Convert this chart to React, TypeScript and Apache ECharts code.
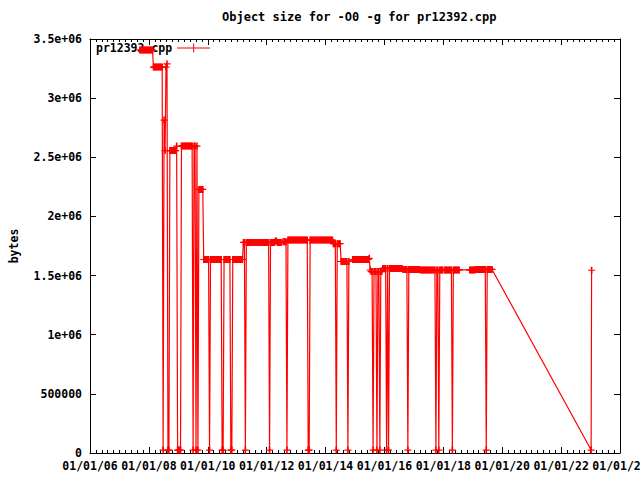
import React, { useEffect, useRef } from "react";
import * as echarts from "echarts";

const chartTitle = "Object size for -O0 -g for pr12392.cpp";
const seriesName = "pr12392.cpp";
const yAxisName = "bytes";

// dense run of builds: first date and spacing
const firstBuildDate = "2007-09-12";
const buildStepDays = 12;
// object size (bytes) for each build; 25e3 = failed build, null = no build recorded
const buildSizes: (number | null)[] = [
  3407e3, 3407e3, 3407e3, 3407e3, 3407e3, 3407e3, 3407e3, 3407e3, 3407e3, 3407e3, 3407e3, 3407e3, 3407e3, 3407e3,
  3263e3, 3263e3, 3263e3, 3263e3, 3263e3, 3263e3, 3263e3, 3263e3, 3263e3, 3263e3,
  25e3, 2815e3, 2557e3, 3263e3, 3289e3, 25e3, 25e3,
  2557e3, 2557e3, 2557e3, 2557e3, 2557e3, 2557e3, 2557e3,
  2595e3, 25e3, 25e3, 25e3, 25e3,
  2595e3, 2595e3, 2595e3, 2595e3, 2595e3, 2595e3, 2595e3, 2595e3, 2595e3, 2595e3, 2595e3, 2595e3,
  25e3, 2595e3, 2595e3, 25e3, 2595e3, 25e3,
  2228e3, 2228e3, 2228e3, 2228e3, 2228e3,
  1636e3, 1636e3, 1636e3, 1636e3, 1636e3, 1636e3,
  25e3,
  1636e3, 1636e3, 1636e3, 1636e3, 1636e3, 1636e3, 1636e3, 1636e3, 1636e3, 1636e3, 1636e3, 1636e3,
  25e3, 25e3,
  1636e3, 1636e3, 1636e3, 1636e3, 1636e3, 1636e3, 1636e3,
  25e3, 25e3,
  1636e3, 1636e3, 1636e3, 1636e3, 1636e3, 1636e3, 1636e3, 1636e3, 1636e3, 1636e3, 1636e3,
  1780e3, 1780e3,
  25e3,
  1780e3, 1780e3, 1780e3, 1780e3, 1780e3, 1780e3, 1780e3, 1780e3, 1780e3, 1780e3, 1780e3, 1780e3,
  1780e3, 1780e3, 1780e3, 1780e3, 1780e3, 1780e3, 1780e3, 1780e3, 1780e3, 1780e3, 1780e3, 1780e3,
  25e3,
  1780e3, 1780e3, 1780e3, 1780e3, 1780e3,
  1792e3, 1792e3,
  1780e3, 1780e3, 1780e3, 1780e3, 1780e3,
  null,
  1785e3, 1785e3, 1785e3, 1785e3,
  25e3,
  1800e3, 1800e3, 1800e3, 1800e3, 1800e3, 1800e3, 1800e3, 1800e3, 1800e3, 1800e3, 1800e3,
  1800e3, 1800e3, 1800e3, 1800e3, 1800e3, 1800e3, 1800e3, 1800e3, 1800e3, 1800e3,
  25e3, 25e3,
  1800e3, 1800e3, 1800e3, 1800e3, 1800e3, 1800e3, 1800e3, 1800e3, 1800e3, 1800e3, 1800e3, 1800e3,
  1800e3, 1800e3, 1800e3, 1800e3, 1800e3, 1800e3, 1800e3, 1800e3, 1800e3, 1800e3, 1800e3, 1800e3,
  1770e3, 1770e3, 1770e3,
  25e3,
  1770e3, 1770e3, 1770e3, 1770e3,
  1619e3, 1619e3, 1619e3, 1619e3, 1619e3, 1619e3, 1619e3,
  25e3, 1619e3,
  null, null, null,
  1636e3, 1636e3, 1636e3, 1636e3, 1636e3, 1636e3, 1636e3, 1636e3, 1636e3, 1636e3, 1636e3, 1636e3,
  1636e3, 1636e3, 1636e3, 1636e3, 1636e3,
  1646e3, 1547e3,
  1534e3, 1534e3,
  25e3,
  1534e3, 1534e3, 1534e3,
  25e3,
  1534e3, 1534e3,
  25e3,
  1534e3, 1534e3,
  1560e3, 1560e3, 1560e3, 1560e3,
  25e3, 1560e3, 25e3,
  1560e3, 1560e3, 1560e3, 1560e3, 1560e3, 1560e3, 1560e3, 1560e3, 1560e3, 1560e3, 1560e3, 1560e3, 1560e3, 1560e3,
  1552e3, 1552e3, 1552e3, 1552e3, 1552e3,
  25e3,
  1552e3, 1552e3, 1552e3, 1552e3, 1552e3, 1552e3, 1552e3, 1552e3, 1552e3, 1552e3, 1552e3, 1552e3,
  1548e3, 1548e3, 1548e3, 1548e3, 1548e3, 1548e3, 1548e3, 1548e3,
  1548e3, 1548e3, 1548e3, 1548e3, 1548e3, 1548e3, 1548e3, 1548e3,
  25e3, 1548e3, 1548e3, 25e3,
  1548e3, 1548e3, 1548e3, 1548e3,
  null,
  1548e3, 1548e3, 1548e3, 1548e3, 1548e3, 1548e3, 1548e3, 1548e3,
  25e3,
  1548e3, 1548e3, 1548e3, 1548e3, 1548e3, 1548e3, 1548e3,
  null, null, null, null, null, null, null, null, null, null,
  1548e3, 1548e3, 1548e3, 1548e3, 1548e3, 1548e3,
  1552e3, 1552e3, 1552e3, 1552e3, 1552e3, 1552e3, 1552e3, 1552e3, 1552e3, 1552e3, 1552e3,
  25e3,
  1552e3, 1552e3, 1552e3, 1552e3, 1552e3, 1552e3,
];

// isolated late builds
const lateBuildDates = ["2023-01-08", "2023-01-14"];
const lateBuildSizes = [25e3, 1545e3];

// axes
const xMinYear = 2006;
const xMaxYear = 2024;
const xStepYears = 2;
const yMin = 0;
const yMax = 3500000;
const yStep = 500000;

const MONO = "'DejaVu Sans Mono', 'Liberation Mono', monospace";
const RED = "#ff0000";
const PLUS = "path://M2.7,0h1.6v7h-1.6z M0,2.9h7v1.2h-7z";

function decimalYear(ms: number): number {
  const d = new Date(ms);
  const y = d.getUTCFullYear();
  const s = Date.UTC(y, 0, 1);
  const e = Date.UTC(y + 1, 0, 1);
  return y + (ms - s) / (e - s);
}

function gnuplotG(v: number): string {
  if (v === 0) return "0";
  if (Math.abs(v) >= 1e6) {
    const e = Math.floor(Math.log10(Math.abs(v)) + 1e-9);
    const m = v / Math.pow(10, e);
    return `${parseFloat(m.toPrecision(6))}e+${String(e).padStart(2, "0")}`;
  }
  return String(v);
}

function xLabel(v: number): string {
  return `01/01/${String(Math.round(v) % 100).padStart(2, "0")}`;
}

function buildData(): (number | null)[][] {
  const start = Date.parse(firstBuildDate + "T00:00:00Z");
  const out: (number | null)[][] = [];
  buildSizes.forEach((s, i) => {
    const ms = start + i * buildStepDays * 86400000;
    out.push([decimalYear(ms), s]);
  });
  lateBuildDates.forEach((d, i) => {
    out.push([decimalYear(Date.parse(d + "T00:00:00Z")), lateBuildSizes[i]]);
  });
  return out;
}

export default function App() {
  const ref = useRef<HTMLDivElement>(null);
  useEffect(() => {
    if (!ref.current) return;
    const chart = echarts.init(ref.current, undefined, { renderer: "svg" });
    const labelStyle = { fontFamily: MONO, fontWeight: "bold" as const, fontSize: 11.5, color: "#000" };
    const axisLine = { show: true, onZero: false, lineStyle: { color: "#000", width: 1 } };
    const xCommon = {
      type: "value" as const,
      min: xMinYear,
      max: xMaxYear,
      interval: xStepYears,
      axisLine,
      axisTick: { show: true, inside: true, length: 6, lineStyle: { color: "#000" } },
      minorTick: { show: true, splitNumber: 10, length: 3, lineStyle: { color: "#000" } },
      splitLine: { show: false },
      minorSplitLine: { show: false },
    };
    const yCommon = {
      type: "value" as const,
      min: yMin,
      max: yMax,
      interval: yStep,
      axisLine,
      axisTick: { show: true, inside: true, length: 6, lineStyle: { color: "#000" } },
      splitLine: { show: false },
    };
    chart.setOption({
      animation: false,
      backgroundColor: "#ffffff",
      title: {
        text: chartTitle,
        left: 222,
        top: 11,
        padding: 0,
        textStyle: { fontFamily: MONO, fontWeight: "bold", fontSize: 12, color: "#000" },
      },
      legend: {
        left: 96,
        top: 42,
        padding: 0,
        align: "right",
        itemWidth: 33,
        itemHeight: 9,
        icon: "path://M0,4h33v1h-33z M16,0h1v9h-1z",
        textStyle: labelStyle,
        data: [{ name: seriesName }],
      },
      grid: {
        left: 90,
        right: 20,
        top: 39,
        bottom: 27,
        show: false,
        containLabel: false,
        outerBoundsMode: "none",
      },
      xAxis: [
        {
          ...xCommon,
          position: "bottom",
          axisLabel: { ...labelStyle, margin: 7, formatter: xLabel },
        },
        {
          ...xCommon,
          position: "top",
          axisLabel: { show: false },
        },
      ],
      yAxis: [
        {
          ...yCommon,
          position: "left",
          name: yAxisName,
          nameLocation: "middle",
          nameGap: 70,
          nameRotate: 90,
          nameTextStyle: labelStyle,
          axisLabel: { ...labelStyle, margin: 8, formatter: gnuplotG },
        },
        {
          ...yCommon,
          position: "right",
          axisLabel: { show: false },
        },
      ],
      series: [
        {
          type: "line",
          name: seriesName,
          xAxisIndex: 0,
          yAxisIndex: 0,
          data: buildData(),
          connectNulls: true,
          symbol: PLUS,
          symbolSize: 7,
          showSymbol: true,
          z: 10,
          lineStyle: { color: RED, width: 1.2 },
          itemStyle: { color: RED, borderWidth: 0 },
          emphasis: { disabled: true },
        },
      ],
    });
    return () => chart.dispose();
  }, []);
  return (
    <div
      ref={ref}
      style={{ position: "fixed", left: 0, top: 0, width: 640, height: 480, background: "#fff" }}
    />
  );
}
